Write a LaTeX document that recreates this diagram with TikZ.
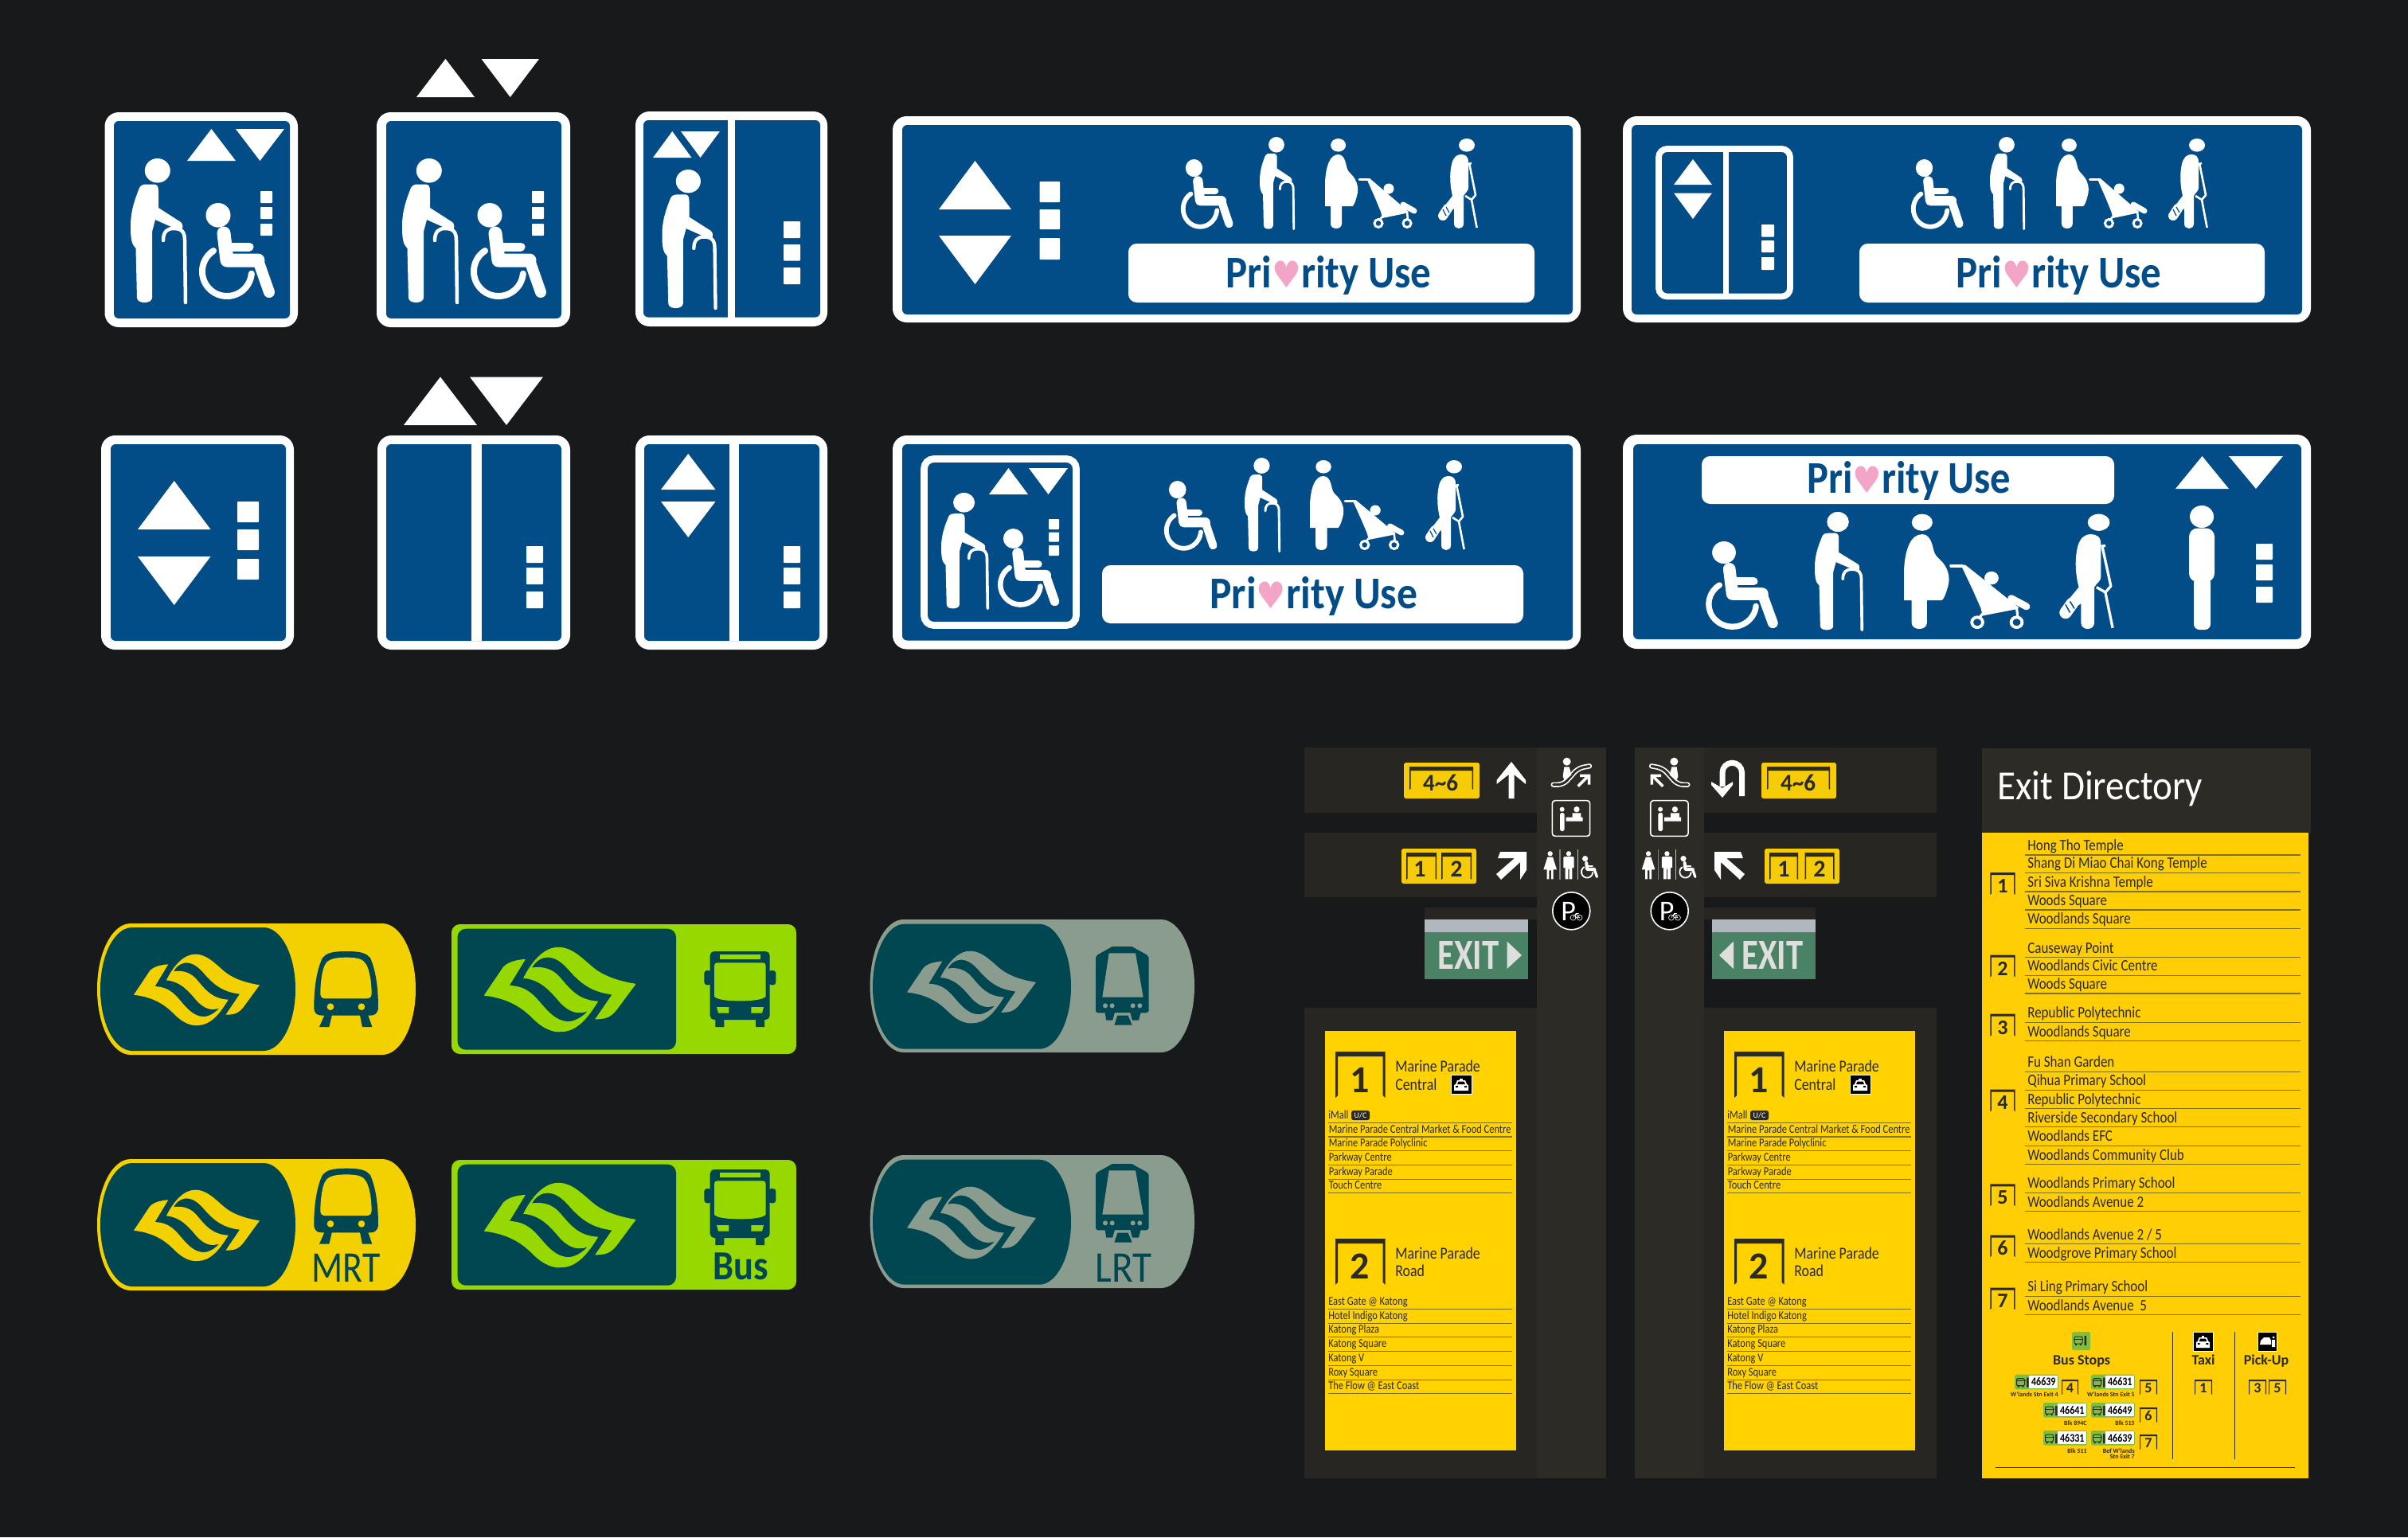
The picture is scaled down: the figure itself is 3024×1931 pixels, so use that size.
\documentclass[tikz,border=0pt]{standalone}
\usepackage{fontspec}
\setmainfont{Carlito}
\newfontfamily\hfont{DejaVu Sans}
\definecolor{bgc}{HTML}{18191B}
\definecolor{blu}{HTML}{024C88}
\definecolor{teal}{HTML}{004751}
\definecolor{myel}{HTML}{F3D000}
\definecolor{bgrn}{HTML}{96D800}
\definecolor{lgry}{HTML}{8A9C8E}
\definecolor{band}{HTML}{272622}
\definecolor{colm}{HTML}{2D2B26}
\definecolor{byel}{HTML}{FFD200}
\definecolor{dyel}{HTML}{FFCE05}
\definecolor{lyel}{HTML}{F6CC08}
\definecolor{exg}{HTML}{4A8265}
\definecolor{exs}{HTML}{B0B7BF}
\definecolor{exw}{HTML}{DEDEDC}
\definecolor{pinkh}{HTML}{F2A5C7}
\definecolor{ink}{HTML}{2B2A25}
\definecolor{rule}{HTML}{7E7010}
\definecolor{chipg}{HTML}{7FBF3F}
\newdimen\pxu \pxu=0.56906pt
\newcommand{\fpx}[1]{\pgfmathsetlengthmacro\tmpfs{#1*0.56906pt}\fontsize{\tmpfs}{\tmpfs}\selectfont}
\newcommand{\fw}[2]{\resizebox{#1\pxu}{\height}{#2}}
\newcommand{\prio}{\fpx{57}\bfseries Pri{\hfont\fpx{46}\textcolor{pinkh}{♥}}rity Use}
\tikzset{
 tl/.style={anchor=base west,inner sep=0pt,text=ink},
 tc/.style={anchor=base,inner sep=0pt,text=ink},
 tr/.style={anchor=base east,inner sep=0pt,text=ink},
 bitem/.style={tl,font=\fpx{15},xscale=.83},
 ditem/.style={tl,font=\fpx{20},xscale=.85},
 bighead/.style={tl,font=\fpx{21},xscale=.85},
 thinrule/.style={rule,line width=0.6pt},
}
% --- sign frame
\newcommand{\signb}[8]{\fill[white,rounded corners=10pt] (#1,#2) rectangle (#3,#4);
 \fill[blu,rounded corners=3.5pt] (#5,#6) rectangle (#7,#8);}
\newcommand{\tu}[4]{\fill[white] ({(#1+#2)/2},#3) -- (#2,#4) -- (#1,#4) -- cycle;}
\newcommand{\td}[4]{\fill[white] ({(#1+#2)/2},#4) -- (#1,#3) -- (#2,#3) -- cycle;}
\newcommand{\rr}[4]{\fill[white,rounded corners=0.5pt] (#1,#2) rectangle (#3,#4);}
% --- pictograms
\newcommand{\oldp}[4]{\begin{scope}[white,shift={(#1,#2)},xscale=#3/71,yscale=#4/183]
 \pgfmathsetmacro\lwu{#4/183*0.569}
 \fill (33.8,15.3) ellipse (16 and 15.3);
 \fill (20,32.5) -- (30,32.5) .. controls (35,33) and (35,38) .. (35,42) -- (35,62) -- (63,80) .. controls (66,82) and (66,88) .. (64,90) -- (60,90) -- (31,77) -- (27,92) -- (27,175) .. controls (27,183) and (8,183) .. (8,175) -- (6.5,113) .. controls (1,108) and (0,100) .. (0,85) .. controls (0,65) and (6,50) .. (11,37) .. controls (13,33) and (17,32.5) .. (20,32.5) -- cycle;
 \draw[line width=\lwu*4.5pt,line cap=round] (41,103) .. controls (41,92) and (46,88) .. (54,88) .. controls (64,88) and (68,92) .. (68,103) -- (69,181);
 \end{scope}}
\newcommand{\wchair}[4]{\begin{scope}[white,shift={(#1,#2)},xscale=#3/96,yscale=#4/120]
 \pgfmathsetmacro\lwu{#4/120*0.569}
 \fill (24,15.3) ellipse (15.5 and 15.3);
 \draw[line width=\lwu*8pt,line cap=round] (18.1,60) arc[start angle=237,end angle=5,radius=31];
 \draw[line width=\lwu*17pt,line cap=round,line join=round] (31,38) -- (35,72) -- (74,72);
 \draw[line width=\lwu*14pt,line cap=round,line join=round] (74,72) -- (88,112);
 \draw[line width=\lwu*11pt,line cap=round] (38,55) -- (63,55);
 \end{scope}}
\newcommand{\pregst}[4]{\begin{scope}[white,shift={(#1,#2)},xscale=#3/115,yscale=#4/113]
 \pgfmathsetmacro\lwu{#4/113*0.569}
 \fill (16.6,8.3) ellipse (9.5 and 8.3);
 \fill (16.6,20) .. controls (22,20) and (25,25) .. (27,35) .. controls (28,40) and (30,42) .. (33,45) .. controls (40,52) and (43,62) .. (40,72) .. controls (38,80) and (36,84) .. (34.5,85) -- (21,85) -- (21,107) .. controls (21,115) and (7,115) .. (7,107) -- (7,85) -- (0,85) -- (0,55) .. controls (1,35) and (6,20) .. (16.6,20) -- cycle;
 \draw[line width=\lwu*3pt,line cap=round] (43,51) -- (53,51);
 \fill (52,50) -- (56,50) -- (105,92) -- (101,94) -- (72,100) -- (70,92) -- (63,75) -- cycle;
 \fill (80,63) ellipse (6.5 and 6.5);
 \draw[line width=\lwu*7pt,line cap=round] (98,83) -- (112,91);
 \draw[line width=\lwu*3pt] (67,106.5) circle (5);
 \draw[line width=\lwu*3pt] (103,106.5) circle (5);
 \draw[line width=\lwu*2.5pt] (72,98) -- (68,103) (103,92) -- (104,102);
 \end{scope}}
\newcommand{\crutchp}[4]{\begin{scope}[white,shift={(#1,#2)},xscale=#3/49,yscale=#4/113]
 \pgfmathsetmacro\lwu{#4/113*0.569}
 \fill (35,8.3) ellipse (10 and 8.3);
 \fill (27.5,20) .. controls (33,20) and (37,22) .. (37,30) -- (37,62) .. controls (37,66) and (33,68) .. (31,72) -- (31,107) .. controls (31,115) and (19,115) .. (19,107) -- (19,88) -- (10,95) -- (7,85) -- (17,72) .. controls (14,60) and (13,45) .. (16,32) .. controls (18,24) and (22,20) .. (27.5,20) -- cycle;
 \draw[line width=\lwu*12pt,line cap=round] (11,88) -- (5,97);
 \draw[blu,line width=\lwu*1.2pt] (5,89) -- (9,97) (9,86) -- (13,93);
 \draw[line width=\lwu*2.6pt,line join=round] (37,32) -- (41,31) (38,31) -- (46,71) -- (41,77) -- (33,72) (41,77) -- (47.6,112);
 \end{scope}}
\newcommand{\txtprio}[3]{\node[anchor=base west,inner sep=0pt,text=blu] at (#1,#2) {\fw{#3}{\prio}};}
% --- pills
\newcommand{\pill}[7]{\fill[#7] ({#1+#5},#2) -- ({#3-#5},#2) arc[start angle=-90,end angle=90,x radius=#5,y radius=#6] -- ({#1+#5},#4) arc[start angle=90,end angle=270,x radius=#5,y radius=#6] -- cycle;}
\newcommand{\logo}[5]{\begin{scope}[shift={(#1,#2)},xscale=#3/475,yscale=#4/272,shift={(-25,-25)}]
 \fill[#5] (25,180) .. controls (110,190) and (150,225) .. (180,255) .. controls (210,285) and (240,297) .. (265,295) .. controls (310,295) and (345,260) .. (382,198) .. controls (320,195) and (295,160) .. (265,125) .. controls (245,100) and (215,85) .. (175,92) .. controls (185,75) and (195,65) .. (215,60) .. controls (245,55) and (270,75) .. (295,105) .. controls (335,150) and (370,170) .. (425,177) -- (372,255) .. controls (405,255) and (420,250) .. (440,225) -- (500,143) .. controls (450,135) and (400,120) .. (365,90) .. controls (330,60) and (300,28) .. (260,27) .. controls (215,25) and (175,70) .. (148,125) .. controls (205,130) and (235,170) .. (265,205) .. controls (295,235) and (320,240) .. (348,230) .. controls (320,262) and (290,262) .. (290,262) .. controls (250,262) and (225,230) .. (195,195) .. controls (165,160) and (140,150) .. (105,148) -- (155,65) .. controls (105,68) and (90,85) .. (85,90) -- cycle;
 \end{scope}}
\newcommand{\mrticon}[2]{\begin{scope}[shift={(#1,#2)},scale=1/3,shift={(-703,-15)}]
 \fill[teal] (703,225) .. controls (703,150) and (715,80) .. (735,40) .. controls (750,22) and (770,15) .. (825,15) .. controls (880,15) and (900,22) .. (915,40) .. controls (935,85) and (945,150) .. (945,225) .. controls (945,250) and (930,257) .. (915,257) -- (735,257) .. controls (715,257) and (703,250) .. (703,225) -- cycle;
 \fill[myel] (727,175) .. controls (727,130) and (735,80) .. (745,65) .. controls (755,45) and (780,38) .. (825,38) .. controls (870,38) and (890,45) .. (900,65) .. controls (912,85) and (920,130) .. (920,175) .. controls (920,188) and (912,193) .. (900,193) -- (745,193) .. controls (735,193) and (727,188) .. (727,175) -- cycle;
 \fill[myel] (765,224) circle (13) (882,224) circle (13);
 \fill[teal] (745,250) -- (772,250) -- (760,300) -- (723,300) -- cycle (875,250) -- (905,250) -- (922,300) -- (885,300) -- cycle;
 \end{scope}}
\newcommand{\busicon}[2]{\begin{scope}[shift={(#1,#2)},scale=1/3,shift={(-905,-45)}]
 \fill[teal,rounded corners=3pt] (905,45) rectangle (1130,303);
 \fill[teal,rounded corners=2pt] (883,117) rectangle (910,172) (1125,117) rectangle (1153,172);
 \fill[teal] (925,300) rectangle (958,330) (1077,300) rectangle (1110,330);
 \fill[bgrn] (941,57) rectangle (1094,76);
 \fill[bgrn] (921,100) .. controls (921,92) and (925,88) .. (932,88) -- (1104,88) .. controls (1111,88) and (1115,92) .. (1115,100) -- (1115,215) .. controls (1105,228) and (1060,232) .. (1018,232) .. controls (975,232) and (930,228) .. (921,215) -- cycle;
 \fill[bgrn] (930,255) -- (976,255) -- (976,278) -- (936,278) -- cycle (1060,255) -- (1107,255) -- (1101,278) -- (1060,278) -- cycle;
 \end{scope}}
\newcommand{\lrticon}[2]{\begin{scope}[shift={(#1,#2)},scale=1/3,shift={(-768,0)}]
 \fill[teal] (768,38) -- (768,240) -- (775,247) -- (803,247) -- (808,275) -- (832,275) -- (840,247) -- (898,247) -- (905,275) -- (930,275) -- (937,247) -- (960,247) -- (968,240) -- (968,38) -- (960,28) -- (915,3) -- (905,-3) -- (830,-3) -- (820,3) -- (775,28) -- cycle;
 \fill[lgry] (818,22) -- (918,22) -- (947,188) -- (793,188) -- cycle;
 \fill[lgry] (804,220) circle (9) (830,220) circle (9) (908,220) circle (9) (934,220) circle (9);
 \fill[lgry] (832,275) -- (840,247) -- (898,247) -- (905,275) -- cycle;
 \fill[teal] (838,293) -- (850,257) -- (890,257) -- (905,293) -- cycle;
 \end{scope}}
% --- brackets
\newcommand{\brk}[7]{\fill[#7] (#1,#4) -- (#1,#2) -- (#3,#2) -- (#3,#4) -- ({#3-#6},{#4-#6}) -- ({#3-#6},{#2+#5}) -- ({#1+#6},{#2+#5}) -- ({#1+#6},{#4-#6}) -- cycle;}
\newcommand{\dbrk}[5]{\brk{#1}{#2}{#3}{#4}{3}{1.6}{ink}
 \node[tc,font=\fpx{26}\bfseries] at ({(#1+#3)/2},{#4-2.5}) {#5};}
\newcommand{\sbrk}[5]{\brk{#1}{#2}{#3}{#4}{2}{1.2}{ink}
 \node[tc,font=\fpx{18}\bfseries] at ({(#1+#3)/2},{#4-2.5}) {#5};}
\newcommand{\taxiic}[4]{\fill[black,draw=white,line width=0.4pt] (#1,#2) rectangle ({#1+#3},{#2+#4});
 \begin{scope}[shift={(#1,#2)},xscale=#3/26,yscale=#4/24]
 \fill[white] (8,7) -- (18,7) -- (20,12) -- (22,13) -- (22,20) -- (4,20) -- (4,13) -- (6,12) -- cycle;
 \fill[black] (9.5,8.5) -- (16.5,8.5) -- (18,12) -- (8,12) -- cycle (6,14) rectangle (9,16) (17,14) rectangle (20,16);
 \fill[white] (11,4.5) rectangle (15,6.5);
 \end{scope}}
\newcommand{\busglyph}[2]{\begin{scope}[shift={(#1,#2)}]
 \draw[ink,line width=0.6pt,rounded corners=0.8pt] (0,0) rectangle (10,9);
 \draw[ink,line width=0.5pt] (-1,3) -- (11,3);
 \fill[ink] (1,9) rectangle (3,11) (7,9) rectangle (9,11) (12.5,-1) rectangle (15,11);
 \end{scope}}
\newcommand{\chip}[4]{\fill[chipg,rounded corners=1pt] (#1,#2) rectangle ({#1+55},{#2+18.6});
 \fill[white] ({#1+18.3},{#2+1.2}) rectangle ({#1+54},{#2+17.4});
 \busglyph{{#1+2.5}}{{#2+5}}
 \node[tc,font=\fpx{14.5}\bfseries,text=black] at ({#1+36.3},{#2+14}) {\fw{30.5}{#3}};
 \node[tr,font=\fpx{8}\bfseries] at ({#1+55},{#2+28}) {#4};}
% --- yellow level labels
\newcommand{\lab}[4]{\fill[lyel,rounded corners=1.5pt] (#1,#2) rectangle (#3,#4);}
% --- column icons
\newcommand{\escal}{\begin{scope}[shift={(1930,945)},scale=1/3]
 \draw[white,line width=3.6pt,line cap=round,line join=round,rounded corners=4pt] (62,122) -- (100,122) -- (155,60) -- (198,52);
 \draw[colm,line width=1.7pt,line cap=round,line join=round,rounded corners=4pt] (62,122) -- (100,122) -- (155,60) -- (198,52);
 \fill[white] (113,35) circle (15);
 \fill[white] (103,55) -- (122,55) -- (130,85) -- (104,108) -- (98,90) -- cycle;
 \draw[white,line width=2pt] (155,128) -- (195,88) (162,88) -- (197,88) -- (197,122);
 \end{scope}}
\newcommand{\colicons}[1]{\begin{scope}[shift={(#1,0)}]
 \begin{scope}[shift={(1930,945)},scale=1/3]
  \draw[white,line width=0.9pt,rounded corners=2pt] (58,182) rectangle (200,316);
  \fill[white] (95,215) circle (9) (150,215) circle (11);
  \fill[white,rounded corners=1pt] (87,228) rectangle (104,297);
  \fill[white] (134,229) rectangle (166,245) (110,245) rectangle (173,260);
  \fill[white] (50,382) circle (9.5) (120,382) circle (9.5);
  \fill[white] (40,395) -- (60,395) -- (75,442) -- (62,442) -- (62,478) -- (54,478) -- (54,445) -- (46,445) -- (46,478) -- (38,478) -- (38,442) -- (25,442) -- cycle;
  \fill[white] (104,393) -- (136,393) -- (140,397) -- (140,435) -- (133,435) -- (133,478) -- (122,478) -- (122,440) -- (118,440) -- (118,478) -- (107,478) -- (107,435) -- (100,435) -- (100,397) -- cycle;
  \draw[gray,line width=0.9pt] (87,366) -- (87,480);
  \draw[lightgray,line width=0.6pt] (153,366) -- (153,480);
 \end{scope}
 \wchair{1985}{1075}{22.3}{28.3}
 \fill[black,draw=white,line width=0.9pt] (1973.3,1144.3) circle (23.5);
 \node[anchor=base west,inner sep=0pt,text=white,font=\fpx{36}] at (1960,1156.7) {P};
 \draw[white,line width=0.35pt] (1975.5,1152.7) circle (3.4) (1983.6,1152.7) circle (3.4) (1975.5,1152.7) -- (1979,1147.5) -- (1983.6,1152.7) -- (1978.5,1152.7) -- (1979,1147.5) -- (1982.5,1147.5);
 \end{scope}}
\newcommand{\exitboard}[1]{\begin{scope}[shift={(#1,0)}]
 \fill[byel] (1664,1294.5) rectangle (1904,1822);
 \brk{1677}{1321}{1739.5}{1379}{6}{3}{ink}
 \node[tc,font=\fpx{48}\bfseries] at (1708,1372) {1};
 \node[bighead] at (1752,1346.5) {Marine Parade};
 \node[bighead] at (1752,1369) {Central};
 \taxiic{1822}{1350}{26}{24}
 \node[bitem] at (1668,1405.7) {iMall};
 \fill[ink,rounded corners=1.5pt] (1697,1395) rectangle (1720,1407);
 \node[tc,font=\fpx{10},text=white] at (1708.5,1404.5) {U/C};
 \foreach \ly/\lbl in {1410.5/,1428/Marine Parade Central Market \& Food Centre,1445.7/Marine Parade Polyclinic,1463/Parkway Centre,1481/Parkway Parade,1498.5/Touch Centre}{
  \draw[thinrule] (1668,\ly) -- (1899,\ly);
  \node[bitem] at (1668.5,\ly-4.8) {\lbl};}
 \brk{1677}{1556}{1739.5}{1613.7}{6}{3}{ink}
 \node[tc,font=\fpx{48}\bfseries] at (1708,1606.5) {2};
 \node[bighead] at (1752,1581) {Marine Parade};
 \node[bighead] at (1752,1603) {Road};
 \foreach \ly/\lbl in {1644/East Gate @ Katong,1662/Hotel Indigo Katong,1679.5/Katong Plaza,1697.5/Katong Square,1715.5/Katong V,1733/Roxy Square,1750/The Flow @ East Coast}{
  \draw[thinrule] (1668,\ly) -- (1899,\ly);
  \node[bitem] at (1668,\ly-4.8) {\lbl};}
 \end{scope}}
\begin{document}
\begin{tikzpicture}[x=0.02cm,y=-0.02cm]
\fill[bgc] (0,0) rectangle (3024,1931);
\useasboundingbox (0,0) rectangle (3024,1931);
% ===== lift signs row 1
\signb{131.5}{141}{374}{411}{143}{152}{364}{400}
\tu{235}{296}{162}{202}\td{296}{357}{162}{202}
\rr{327}{240}{342}{255}\rr{327}{260}{342}{275}\rr{327}{281}{342}{296}
\oldp{164}{199}{71}{183}\wchair{250}{255}{96}{120}
\signb{473}{141}{716}{411}{485}{152}{705}{400}
\tu{523}{596}{74}{122}\td{604.5}{677}{74}{122}
\rr{668}{240}{683}{255}\rr{668}{260}{683}{275}\rr{668}{281}{683}{296}
\oldp{505}{199}{71}{183}\wchair{591}{255}{96}{120}
\signb{798}{140}{1039}{410}{808}{151}{1030}{398.5}
\fill[white] (914,151) rectangle (923,398.5);
\tu{820}{868.5}{165}{198}\td{855}{904}{165}{198}
\oldp{831.5}{213}{69}{176}
\rr{984}{278}{1005}{299}\rr{984}{307}{1005}{327.5}\rr{984}{336}{1005}{357}
% ===== lift signs row 2
\signb{127}{547}{369}{816}{139}{558}{359}{805}
\tu{173}{264.5}{604}{665}\td{173}{264.5}{699}{760}
\rr{298}{630}{325}{656}\rr{298}{665}{325}{691}\rr{298}{702}{325}{728}
\signb{474}{547}{716}{816}{485}{558}{705}{805}
\fill[white] (592,558) rectangle (604.5,805);
\tu{507}{599}{473.5}{534}\td{590}{682}{473.5}{534}
\rr{661}{686}{682}{707}\rr{661}{713}{682}{734}\rr{661}{743}{682}{764}
\signb{798}{547}{1039}{816}{809}{558}{1029}{805}
\fill[white] (916,558) rectangle (928,805);
\tu{830}{898.5}{570}{615}\td{830}{898.5}{630}{675}
\rr{984}{686}{1005}{707}\rr{984}{713}{1005}{734}\rr{984}{743}{1005}{764}
% ===== priority signs
\signb{1121}{146}{1985}{405}{1133}{157}{1975}{395}
\tu{1179}{1270}{202}{263}\td{1179}{1270}{296}{357}
\rr{1305.5}{228}{1331}{254}\rr{1305.5}{263}{1331}{288}\rr{1305.5}{299}{1331}{326}
\wchair{1483}{200}{66}{87}\oldp{1582}{172}{44}{117}\pregst{1664}{174}{115}{113}\crutchp{1807}{174}{49}{113}
\fill[white,rounded corners=6pt] (1417,306) rectangle (1927,380);
\txtprio{1539}{361}{258}
\signb{2038}{146}{2902}{405}{2049}{157}{2891}{395}
\draw[white,line width=4.4pt,rounded corners=6pt] (2083,187) rectangle (2248,372.5);
\fill[white] (2164,187) rectangle (2171,372.5);
\tu{2102}{2150}{200}{232}\td{2102}{2150}{242.5}{275}
\rr{2212}{282}{2228}{297.6}\rr{2212}{302}{2228}{317}\rr{2212}{323}{2228}{339}
\wchair{2400}{200}{66}{87}\oldp{2499}{172}{44}{117}\pregst{2582}{174}{114}{113}\crutchp{2724}{174}{49}{113}
\fill[white,rounded corners=6pt] (2335,306) rectangle (2844,380);
\txtprio{2456}{361}{258}
\signb{1121}{547}{1985}{815.5}{1133}{558}{1975}{804.5}
\draw[white,line width=5pt,rounded corners=7pt] (1160.5,576.5) rectangle (1351.5,785.5);
\tu{1242}{1291}{588}{621}\td{1292}{1341}{588}{621}
\oldp{1182}{619}{60}{147}\wchair{1253}{664}{78}{98}
\rr{1317}{652}{1330}{665}\rr{1317}{668.6}{1330}{680.5}\rr{1317}{685}{1330}{698}
\wchair{1462}{604}{67}{87}\oldp{1563}{575}{45}{119}\pregst{1645}{578}{118}{113}\crutchp{1791}{578}{49}{113}
\fill[white,rounded corners=6pt] (1384,710) rectangle (1913,783);
\txtprio{1519}{764.5}{261}
\signb{2038}{546}{2902}{815}{2051}{558}{2890}{803}
\fill[white,rounded corners=6pt] (2137,573) rectangle (2655,633);
\txtprio{2269}{619}{256}
\tu{2732}{2799}{573}{614}\td{2799}{2867}{573}{614}
\wchair{2142}{680}{92}{110}\oldp{2279}{643}{61}{150}\pregst{2391}{645.6}{158}{144.4}\crutchp{2587}{645.6}{68}{144.4}
\fill[white] (2765,649) ellipse (15 and 14);
\fill[white,rounded corners=6pt] (2749,663.5) rectangle (2781,731);
\fill[white,rounded corners=4pt] (2755,725) rectangle (2776,791);
\rr{2833}{683}{2854}{703}\rr{2833}{709}{2854}{729}\rr{2833}{737}{2854}{757}
% ===== transit pills
\foreach \dy in {0,296}{
 \begin{scope}[shift={(0,\dy)}]
 \pill{122}{1160}{522}{1325}{42}{82.5}{myel}
 \pill{126}{1165}{371}{1320}{40}{77.5}{teal}
 \logo{168}{1198}{158}{90.7}{myel}
 \fill[bgrn,rounded corners=6pt] (567,1161) rectangle (1000,1324);
 \fill[teal,rounded corners=6pt] (574.5,1166.7) rectangle (849,1318.7);
 \logo{607.7}{1189}{191}{108}{bgrn}
 \pill{1092.6}{1155}{1500}{1322}{42}{83.5}{lgry}
 \pill{1096}{1160.7}{1345}{1317.7}{40}{78.5}{teal}
 \logo{1139}{1194}{162}{92}{lgry}
 \end{scope}}
\mrticon{394.3}{1195}\busicon{891.7}{1195}\lrticon{1376}{1190}
\mrticon{394.3}{1467.7}\busicon{891.7}{1469}\lrticon{1376}{1463}
\node[tl,font=\fpx{55},text=teal] at (391.4,1610) {\fw{86}{MRT}};
\node[tl,font=\fpx{52}\bfseries,text=teal] at (895.5,1607) {\fw{69.5}{Bus}};
\node[tl,font=\fpx{55},text=teal] at (1375,1610) {\fw{71}{LRT}};
% ===== station panels
\fill[band] (1638,939) rectangle (1930,1021) (1638,1046) rectangle (1930,1127) (1789,1140) rectangle (1930,1155) (1638,1266) rectangle (1930,1857);
\fill[colm] (1930,939) rectangle (2017,1857);
\fill[colm] (2053,939) rectangle (2140,1857);
\fill[band] (2140,939) rectangle (2432,1021) (2140,1046) rectangle (2432,1127) (2140,1140) rectangle (2280,1155) (2140,1266) rectangle (2432,1857);
% level labels left
\lab{1763}{958}{1858}{1003}
\brk{1770}{963}{1850}{992}{5}{1.5}{ink}
\node[tc,font=\fpx{30}\bfseries] at (1809,993) {\fw{44}{4\textasciitilde 6}};
\lab{1760}{1066}{1854}{1110}
\brk{1766}{1071}{1804}{1105}{5}{1.5}{ink}\brk{1810}{1071}{1848}{1105}{5}{1.5}{ink}
\node[tc,font=\fpx{30}\bfseries] at (1783,1101) {1};\node[tc,font=\fpx{30}\bfseries] at (1829,1101) {2};
\fill[white] (1898,957) -- (1916,980) -- (1916,985) -- (1901.5,973) -- (1901.5,1003) -- (1894.5,1003) -- (1894.5,973) -- (1879.5,985) -- (1879.5,980) -- cycle;
\fill[white] (1884,1070) -- (1917,1070) -- (1917,1093) -- (1909,1105) -- (1909,1083) -- (1885,1105) -- (1879,1098) -- (1902,1078) -- (1881,1078) -- cycle;
% level labels right
\lab{2212}{958}{2306}{1003}
\brk{2219}{963}{2298}{992}{5}{1.5}{ink}
\node[tc,font=\fpx{30}\bfseries] at (2258,993) {\fw{44}{4\textasciitilde 6}};
\lab{2216}{1066}{2310}{1110}
\brk{2222}{1071}{2258}{1105}{5}{1.5}{ink}\brk{2266.5}{1071}{2303.6}{1105}{5}{1.5}{ink}
\node[tc,font=\fpx{30}\bfseries] at (2240,1101) {1};\node[tc,font=\fpx{30}\bfseries] at (2285,1101) {2};
\draw[white,line width=4pt] (2187.5,1000) -- (2187.5,970.5) arc[start angle=0,end angle=-180,radius=12.25] -- (2163,988);
\fill[white] (2149,982) -- (2163,990) -- (2176,982) -- (2176,986) -- (2163,1002) -- (2149,986) -- cycle;
\fill[white] (2186,1070) -- (2153,1070) -- (2153,1093) -- (2161,1105) -- (2161,1083) -- (2185,1105) -- (2191,1098) -- (2168,1078) -- (2189,1078) -- cycle;
% columns
\escal
\begin{scope}[shift={(4070,0)},xscale=-1]\escal\end{scope}
\colicons{0}\colicons{123.4}
% EXIT signs
\fill[exs] (1789,1155) rectangle (1919,1171);
\fill[exg] (1789,1171) rectangle (1919,1230);
\node[tl,font=\fpx{54}\bfseries,text=exw] at (1805,1217) {\fw{77}{EXIT}};
\fill[exw] (1892.5,1182.5) -- (1911,1200) -- (1892.5,1217) -- cycle;
\fill[exs] (2150,1155) rectangle (2280,1171);
\fill[exg] (2150,1171) rectangle (2280,1230);
\node[tl,font=\fpx{54}\bfseries,text=exw] at (2187,1217) {\fw{77}{EXIT}};
\fill[exw] (2177,1182.5) -- (2159,1200) -- (2177,1217) -- cycle;
% exit boards
\exitboard{0}\exitboard{501}
% ===== exit directory
\fill[colm] (2489,940) rectangle (2902,1046);
\fill[dyel] (2489,1046) rectangle (2899,1857);
\node[tl,font=\fpx{52},text=white] at (2508,1004) {\fw{258}{Exit Directory}};
\foreach \ly/\lbl in {1074/Hong Tho Temple,1096.4/Shang Di Miao Chai Kong Temple,1120/Sri Siva Krishna Temple,1143/Woods Square,1166.4/Woodlands Square,1202.5/Causeway Point,1225.4/Woodlands Civic Centre,1248/Woods Square,1284.3/Republic Polytechnic,1307.5/Woodlands Square,1346.4/Fu Shan Garden,1369.3/Qihua Primary School,1392.5/Republic Polytechnic,1415.7/Riverside Secondary School,1439/Woodlands EFC,1462.5/Woodlands Community Club,1498.3/Woodlands Primary School,1521.7/Woodlands Avenue 2,1562.7/{Woodlands Avenue 2 / 5},1585.7/Woodgrove Primary School,1628.3/Si Ling Primary School,1651.7/Woodlands Avenue\ \ 5}{
 \draw[thinrule] (2543,\ly) -- (2889,\ly);
 \node[ditem] at (2546,\ly-5.5) {\lbl};}
\dbrk{2499.3}{1096}{2530.7}{1124}{1}
\dbrk{2499.3}{1199.6}{2530.7}{1227.5}{2}
\dbrk{2499.3}{1273.6}{2530.7}{1301.8}{3}
\dbrk{2499.3}{1368.6}{2530.7}{1396.4}{4}
\dbrk{2499.3}{1487.3}{2530.7}{1515}{5}
\dbrk{2499.3}{1551.7}{2530.7}{1579.3}{6}
\dbrk{2499.3}{1617.7}{2530.7}{1645.3}{7}
\fill[chipg,rounded corners=1pt] (2602,1673) rectangle (2625,1696);
\busglyph{2605}{1679}
\node[tc,font=\fpx{18}\bfseries] at (2614,1714) {Bus Stops};
\node[tc,font=\fpx{18}\bfseries] at (2767,1714) {Taxi};
\node[tc,font=\fpx{18}\bfseries] at (2846,1714) {Pick-Up};
\taxiic{2754}{1673}{25}{24}
\fill[black,draw=white,line width=0.4pt] (2835,1673) rectangle (2859,1697);
\fill[white] (2838,1689) -- (2839,1684) -- (2843,1680) -- (2850,1680) -- (2852,1684) -- (2852,1689) -- cycle;
\fill[white] (2855,1680) circle (1.5) (2853,1683) rectangle (2857,1692);
\draw[ink,line width=0.6pt] (2728,1673) -- (2728,1833) (2806.7,1673) -- (2806.7,1833);
\draw[ink,line width=0.6pt] (2505.7,1843) -- (2882,1843);
\chip{2530}{1726.7}{46639}{W'lands Stn Exit 4}
\chip{2626}{1726.7}{46631}{W'lands Stn Exit 5}
\chip{2566}{1762}{46641}{Blk 894C}
\chip{2626}{1762}{46649}{Blk 515}
\chip{2566}{1797}{46331}{Blk 511}
\chip{2626}{1797}{46639}{Bef W'lands}
\node[tr,font=\fpx{8}\bfseries] at (2681,1832.5) {Stn Exit 7};
\sbrk{2589}{1733}{2610}{1752}{4}
\sbrk{2687}{1733}{2709}{1752}{5}
\sbrk{2687}{1768}{2709}{1787}{6}
\sbrk{2687}{1802}{2709}{1821}{7}
\sbrk{2756}{1733}{2778}{1752}{1}
\sbrk{2824}{1733}{2846}{1752}{3}
\sbrk{2849}{1733}{2871}{1752}{5}
\end{tikzpicture}
\end{document}
